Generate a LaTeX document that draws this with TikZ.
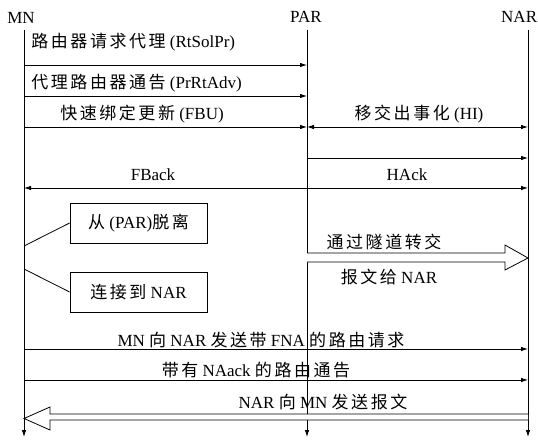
\documentclass[tikz,border=0pt]{standalone}
\usepackage{fontspec}
\setmainfont{Liberation Serif}
\newfontfamily\cjk[LetterSpace=15]{Noto Sans CJK SC}
\newcommand\zhtxt[1]{{\cjk #1}}
\usetikzlibrary{arrows.meta}
\begin{document}
\begin{tikzpicture}[x=1pt,y=-1pt,line width=0.8pt,
  lbl/.style={font=\fontsize{17}{19}\selectfont, inner sep=0pt},
  tip/.tip={Latex[length=7pt,width=4.5pt]},
  msg/.style={-tip},
  dmsg/.style={tip-tip},
  life/.style={-tip},
  box/.style={draw, minimum width=137pt, minimum height=40pt, inner sep=0pt, font=\fontsize{17}{19}\selectfont},
  fat/.style={draw, fill=white, line join=miter}]
\useasboundingbox (0,0) rectangle (538,441);
% lifeline heads
\node[lbl] (MN) at (21,18) {MN};
\node[lbl] (PAR) at (306,17) {PAR};
\node[lbl, anchor=east] (NAR) at (537.5,17) {NAR};
\coordinate (MNt) at (24,30);  \coordinate (MNb) at (24,437);
\coordinate (PARt) at (307,30); \coordinate (PARb) at (307,437);
\coordinate (NARt) at (528,30); \coordinate (NARb) at (528,437);
\draw[life] (MNt) -- (MNb);
\draw[life] (PARt) -- (PARb);
\draw[life] (NARt) -- (NARb);
% message levels
\coordinate (ya) at (0,65);
\coordinate (yb) at (0,96);
\coordinate (yc) at (0,127);
\coordinate (yd) at (0,158);
\coordinate (ye) at (0,188);
\coordinate (yf) at (0,349);
\coordinate (yg) at (0,380);
% messages
\draw[msg] (MNt |- ya) -- (PARt |- ya);
\node[lbl, anchor=west] (t1) at (31,42) {\zhtxt{路由器请求代理} (RtSolPr)};
\draw[msg] (MNt |- yb) -- (PARt |- yb);
\node[lbl, anchor=west] (t2) at (31,83) {\zhtxt{代理路由器通告} (PrRtAdv)};
\draw[msg] (MNt |- yc) -- (PARt |- yc);
\node[lbl] (t3) at (142,114) {\zhtxt{快速绑定更新} (FBU)};
\draw[dmsg] (PARt |- yc) -- (NARt |- yc);
\node[lbl] (t4) at (419,114) {\zhtxt{移交出事化} (HI)};
\draw[msg] (PARt |- yd) -- (NARt |- yd);
\draw[msg] (PARt |- ye) -- (MNt |- ye);
\draw[msg] (PARt |- ye) -- (NARt |- ye);
\node[lbl] (t5) at (153,175) {FBack};
\node[lbl] (t6) at (407,175) {HAck};
% boxes
\node[box] (b1) at (138.5,223) {\zhtxt{从} (PAR)\zhtxt{脱离}};
\node[box] (b2) at (138.5,292) {\zhtxt{连接到} NAR};
\coordinate (j1) at (24,246);
\coordinate (j2) at (24,269);
\draw (j1) -- (b1.west);
\draw (j2) -- (b2.west);
% tunnel arrow
\draw[fat] (307,253) -- (505,253) -- (505,245) -- (528,258) -- (505,270) -- (505,262) -- (307,262);
\node[lbl] (t7) at (384,242) {\zhtxt{通过隧道转交}};
\node[lbl] (t8) at (389,277) {\zhtxt{报文给} NAR};
% final messages
\draw[msg] (MNt |- yf) -- (NARt |- yf);
\node[lbl] (t9) at (261,340) {MN \zhtxt{向} NAR \zhtxt{发送带} FNA \zhtxt{的路由请求}};
\draw[msg] (MNt |- yg) -- (NARt |- yg);
\node[lbl] (t10) at (256,370) {\zhtxt{带有} NAack \zhtxt{的路由通告}};
\draw[fat] (528,414) -- (50,414) -- (50,407) -- (24,418.5) -- (50,430) -- (50,420) -- (528,420);
\node[lbl] (t11) at (323,402) {NAR \zhtxt{向} MN \zhtxt{发送报文}};
\end{tikzpicture}
\end{document}
